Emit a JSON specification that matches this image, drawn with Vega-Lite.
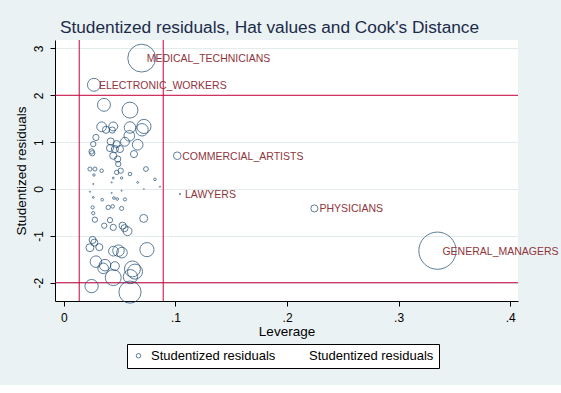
{
  "$schema": "https://vega.github.io/schema/vega-lite/v6.json",
  "autosize": {"type": "none"},
  "width": 463,
  "height": 261,
  "padding": {"left": 55, "top": 40, "right": 43, "bottom": 84},
  "background": "#eaf2f3",
  "title": {
    "text": "Studentized residuals, Hat values and Cook's Distance",
    "font": "Liberation Sans",
    "fontSize": 17.3,
    "fontWeight": "normal",
    "color": "#1c2b4a",
    "anchor": "middle",
    "dx": -17,
    "offset": 3
  },
  "config": {
    "view": {"fill": "white", "stroke": null},
    "axis": {
      "domainColor": "black",
      "tickColor": "black",
      "labelColor": "black",
      "titleColor": "black",
      "labelFont": "Liberation Sans",
      "titleFont": "Liberation Sans",
      "titleFontWeight": "normal",
      "labelFontSize": 12,
      "titleFontSize": 13.5,
      "tickSize": 5
    },
    "legend": {
      "labelFont": "Liberation Sans",
      "labelFontSize": 13,
      "labelColor": "black"
    }
  },
  "layer": [
    {
      "data": {"values": [{"v": 2}, {"v": -2}]},
      "mark": {"type": "rule", "color": "#c8003c", "strokeWidth": 1},
      "encoding": {
        "y": {"field": "v", "type": "quantitative", "title": "Studentized residuals", "scale": {"domain": [-2.39, 3.18], "nice": false, "zero": false}}
      }
    },
    {
      "data": {"values": [{"v": 0.0137}, {"v": 0.089}]},
      "mark": {"type": "rule", "color": "#c8003c", "strokeWidth": 1},
      "encoding": {
        "x": {"field": "v", "type": "quantitative", "title": "Leverage", "scale": {"domain": [-0.008, 0.407], "nice": false, "zero": false}}
      }
    },
    {
      "data": {"name": "obs"},
      "mark": {"type": "point", "shape": "circle", "filled": false, "strokeWidth": 1},
      "encoding": {
        "x": {
          "field": "lev", "type": "quantitative", "title": "Leverage",
          "scale": {"domain": [-0.008, 0.407], "nice": false, "zero": false},
          "axis": {"values": [0, 0.1, 0.2, 0.3, 0.4], "grid": false, "labelPadding": 6, "titlePadding": 1,
            "labelExpr": "datum.value == 0 ? '0' : replace(format(datum.value, '.1f'), '0.', '.')"}
        },
        "y": {
          "field": "res", "type": "quantitative", "title": "Studentized residuals",
          "scale": {"domain": [-2.39, 3.18], "nice": false, "zero": false},
          "axis": {"values": [-2, -1, 0, 1, 2, 3], "grid": true, "gridColor": "#e3ebec", "gridWidth": 1,
            "labelAngle": 270, "labelPadding": 5, "titlePadding": 4, "labelExpr": "'' + datum.value"}
        },
        "size": {"field": "cook", "type": "quantitative", "scale": {"type": "linear", "domain": [0, 0.2], "range": [0, 1382]}, "legend": null},
        "stroke": {
          "datum": "a",
          "type": "nominal",
          "scale": {"domain": ["a", "b"], "range": ["#1a476f", "rgba(0,0,0,0)"]},
          "legend": {
            "title": null,
            "orient": "none",
            "legendX": 72,
            "legendY": 304,
            "direction": "horizontal",
            "padding": 5,
            "strokeColor": "black",
            "fillColor": "white",
            "symbolSize": 20,
            "symbolType": "circle",
            "symbolStrokeWidth": 1,
            "labelOffset": 6,
            "columnPadding": 14,
            "labelExpr": "'Studentized residuals'"
          }
        }
      }
    },
    {
      "data": {"name": "obs"},
      "transform": [{"filter": "datum.label != null"}],
      "mark": {"type": "text", "align": "left", "baseline": "middle", "dx": 5, "dy": 1, "font": "Liberation Sans", "fontSize": 10.5, "color": "#90353b"},
      "encoding": {
        "x": {"field": "lev", "type": "quantitative"},
        "y": {"field": "res", "type": "quantitative"},
        "text": {"field": "label"}
      }
    }
  ],
  "datasets": {
    "obs": [
      {"lev": 0.0697, "res": 2.793, "cook": 0.112, "label": "MEDICAL_TECHNICIANS"},
      {"lev": 0.0269, "res": 2.224, "cook": 0.0242, "label": "ELECTRONIC_WORKERS"},
      {"lev": 0.0359, "res": 1.797, "cook": 0.0242},
      {"lev": 0.0592, "res": 1.684, "cook": 0.0368},
      {"lev": 0.0338, "res": 1.328, "cook": 0.0138},
      {"lev": 0.0442, "res": 1.335, "cook": 0.0114},
      {"lev": 0.0377, "res": 1.264, "cook": 0.0073},
      {"lev": 0.0433, "res": 1.258, "cook": 0.0056},
      {"lev": 0.0592, "res": 1.313, "cook": 0.0192},
      {"lev": 0.0717, "res": 1.335, "cook": 0.0291},
      {"lev": 0.0700, "res": 1.264, "cook": 0.0223},
      {"lev": 0.0586, "res": 1.136, "cook": 0.0164},
      {"lev": 0.0287, "res": 1.100, "cook": 0.0056},
      {"lev": 0.0263, "res": 0.959, "cook": 0.0041},
      {"lev": 0.0248, "res": 0.802, "cook": 0.0041},
      {"lev": 0.0254, "res": 0.763, "cook": 0.0041},
      {"lev": 0.0419, "res": 1.015, "cook": 0.0073},
      {"lev": 0.0473, "res": 0.959, "cook": 0.0073},
      {"lev": 0.0413, "res": 0.874, "cook": 0.0073},
      {"lev": 0.0457, "res": 0.853, "cook": 0.0073},
      {"lev": 0.0502, "res": 0.853, "cook": 0.0073},
      {"lev": 0.0442, "res": 0.710, "cook": 0.0073},
      {"lev": 0.0482, "res": 0.640, "cook": 0.0056},
      {"lev": 0.0487, "res": 0.533, "cook": 0.0041},
      {"lev": 0.0661, "res": 0.945, "cook": 0.0164},
      {"lev": 0.0628, "res": 0.746, "cook": 0.0073},
      {"lev": 0.0547, "res": 1.009, "cook": 0.0114},
      {"lev": 0.1016, "res": 0.710, "cook": 0.0084, "label": "COMMERCIAL_ARTISTS"},
      {"lev": 0.0233, "res": 0.426, "cook": 0.0024},
      {"lev": 0.0278, "res": 0.426, "cook": 0.0024},
      {"lev": 0.0338, "res": 0.390, "cook": 0.0018},
      {"lev": 0.0269, "res": 0.299, "cook": 0.0008},
      {"lev": 0.0735, "res": 0.426, "cook": 0.0033},
      {"lev": 0.0592, "res": 0.320, "cook": 0.0018},
      {"lev": 0.0509, "res": 0.390, "cook": 0.0041},
      {"lev": 0.0473, "res": 0.354, "cook": 0.0028},
      {"lev": 0.0517, "res": 0.235, "cook": 0.0008},
      {"lev": 0.0442, "res": 0.235, "cook": 0.0005},
      {"lev": 0.0428, "res": 0.141, "cook": 0.0002},
      {"lev": 0.0661, "res": 0.141, "cook": 0.0005},
      {"lev": 0.0816, "res": 0.205, "cook": 0.0010},
      {"lev": 0.0861, "res": 0.049, "cook": 0.0002},
      {"lev": 0.0263, "res": 0.107, "cook": 0.0002},
      {"lev": 0.0717, "res": 0.000, "cook": 0.0001},
      {"lev": 0.1040, "res": -0.107, "cook": 0.0003, "label": "LAWYERS"},
      {"lev": 0.2245, "res": -0.414, "cook": 0.0073, "label": "PHYSICIANS"},
      {"lev": 0.3348, "res": -1.316, "cook": 0.2005, "label": "GENERAL_MANAGERS"},
      {"lev": 0.0233, "res": -0.058, "cook": 0.0002},
      {"lev": 0.0263, "res": -0.179, "cook": 0.0005},
      {"lev": 0.0428, "res": -0.085, "cook": 0.0002},
      {"lev": 0.0517, "res": -0.036, "cook": 0.0002},
      {"lev": 0.0343, "res": -0.228, "cook": 0.0010},
      {"lev": 0.0448, "res": -0.192, "cook": 0.0010},
      {"lev": 0.0478, "res": -0.213, "cook": 0.0010},
      {"lev": 0.0547, "res": -0.222, "cook": 0.0015},
      {"lev": 0.0257, "res": -0.392, "cook": 0.0015},
      {"lev": 0.0397, "res": -0.392, "cook": 0.0028},
      {"lev": 0.0437, "res": -0.371, "cook": 0.0018},
      {"lev": 0.0517, "res": -0.414, "cook": 0.0024},
      {"lev": 0.0263, "res": -0.516, "cook": 0.0015},
      {"lev": 0.0278, "res": -0.655, "cook": 0.0041},
      {"lev": 0.0361, "res": -0.783, "cook": 0.0041},
      {"lev": 0.0413, "res": -0.665, "cook": 0.0041},
      {"lev": 0.0442, "res": -0.819, "cook": 0.0056},
      {"lev": 0.0526, "res": -0.783, "cook": 0.0073},
      {"lev": 0.0543, "res": -0.836, "cook": 0.0073},
      {"lev": 0.0570, "res": -0.900, "cook": 0.0114},
      {"lev": 0.0715, "res": -0.627, "cook": 0.0092},
      {"lev": 0.0257, "res": -1.087, "cook": 0.0073},
      {"lev": 0.0272, "res": -1.145, "cook": 0.0073},
      {"lev": 0.0233, "res": -1.252, "cook": 0.0092},
      {"lev": 0.0317, "res": -1.241, "cook": 0.0073},
      {"lev": 0.0744, "res": -1.294, "cook": 0.0291},
      {"lev": 0.0444, "res": -1.326, "cook": 0.0138},
      {"lev": 0.0489, "res": -1.316, "cook": 0.0192},
      {"lev": 0.0520, "res": -1.358, "cook": 0.0164},
      {"lev": 0.0287, "res": -1.550, "cook": 0.0192},
      {"lev": 0.0368, "res": -1.625, "cook": 0.0192},
      {"lev": 0.0352, "res": -1.693, "cook": 0.0164},
      {"lev": 0.0457, "res": -1.646, "cook": 0.0114},
      {"lev": 0.0614, "res": -1.706, "cook": 0.0368},
      {"lev": 0.0637, "res": -1.763, "cook": 0.0328},
      {"lev": 0.0442, "res": -1.891, "cook": 0.0368},
      {"lev": 0.0596, "res": -1.870, "cook": 0.0291},
      {"lev": 0.0248, "res": -2.072, "cook": 0.0256},
      {"lev": 0.0592, "res": -2.200, "cook": 0.0710}
    ]
  }
}
